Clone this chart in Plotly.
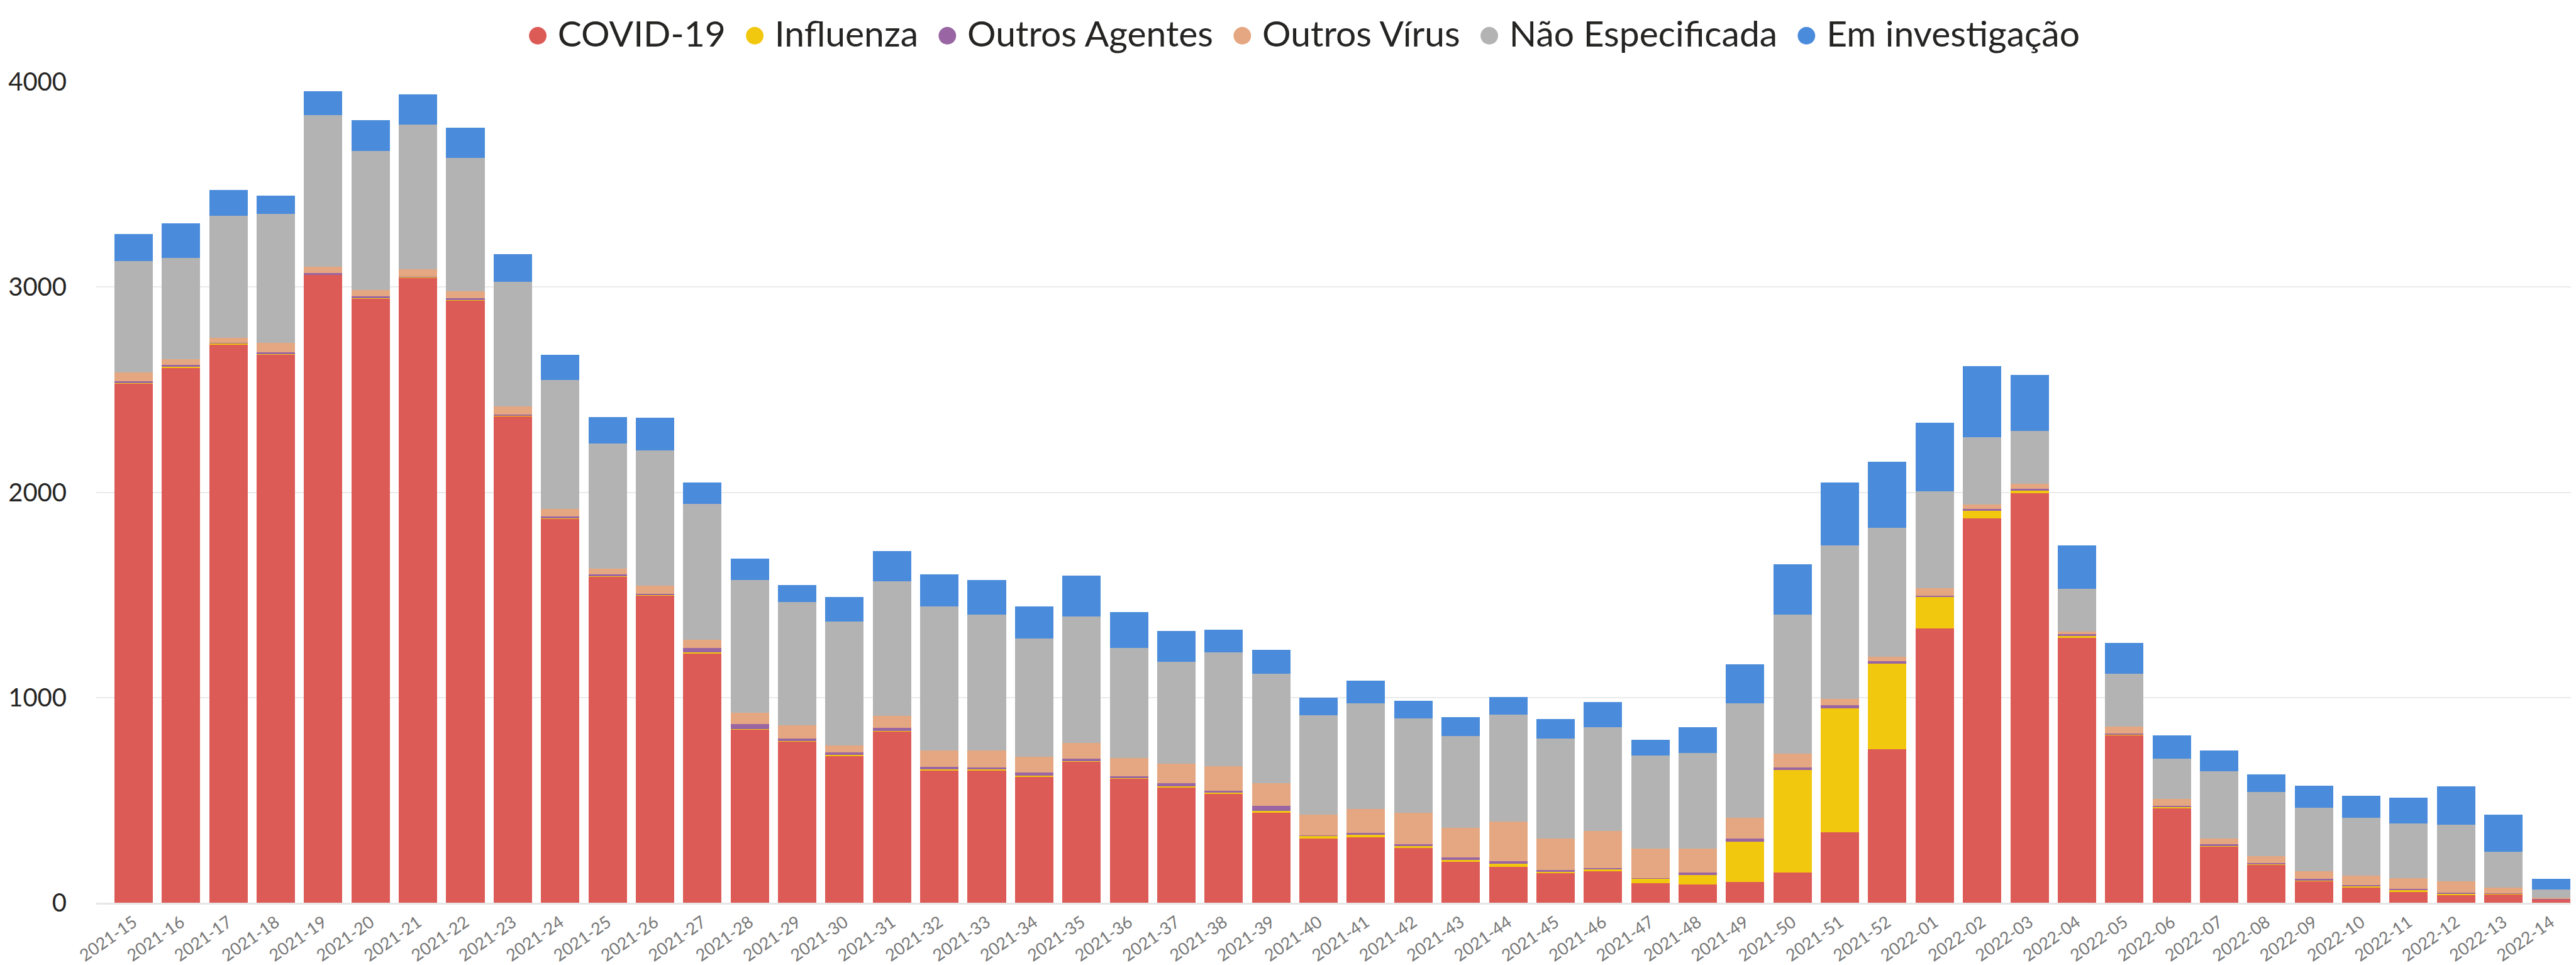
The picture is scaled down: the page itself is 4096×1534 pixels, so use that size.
import plotly.graph_objects as go

weeks = ["2021-15", "2021-16", "2021-17", "2021-18", "2021-19", "2021-20", "2021-21", "2021-22",
         "2021-23", "2021-24", "2021-25", "2021-26", "2021-27", "2021-28", "2021-29", "2021-30",
         "2021-31", "2021-32", "2021-33", "2021-34", "2021-35", "2021-36", "2021-37", "2021-38",
         "2021-39", "2021-40", "2021-41", "2021-42", "2021-43", "2021-44", "2021-45", "2021-46",
         "2021-47", "2021-48", "2021-49", "2021-50", "2021-51", "2021-52", "2022-01", "2022-02",
         "2022-03", "2022-04", "2022-05", "2022-06", "2022-07", "2022-08", "2022-09", "2022-10",
         "2022-11", "2022-12", "2022-13", "2022-14"]

covid = [2530, 2608, 2721, 2671, 3060, 2945, 3044, 2934, 2372, 1870,
         1589, 1497, 1216, 843, 785, 717, 835, 644, 644, 615,
         688, 604, 560, 533, 439, 313, 320, 268, 202, 176, 147,
         152, 95, 89, 102, 147, 344, 749,
         1337, 1873, 1996, 1290,
         817, 462, 273, 184, 105, 76, 55, 37, 42, 16]

influenza = [3, 2, 5, 2, 2, 2, 5, 2, 2, 2,
             2, 4, 5, 3, 3, 3, 3, 5, 5, 5,
             3, 5, 8, 3, 8, 13, 10, 8, 5, 13, 5,
             11, 24, 45, 195, 499, 604, 417,
             155, 39, 13, 10,
             2, 5, 3, 5, 5, 5, 5, 5, 1, 0]

outros_agentes = [7, 11, 3, 9, 6, 8, 1, 9, 6, 9,
                  9, 4, 21, 23, 13, 13, 13, 13, 10, 16,
                  10, 6, 15, 10, 26, 2, 9, 10, 14, 13, 6,
                  5, 1, 13, 16, 13, 13, 11,
                  5, 6, 8, 8,
                  6, 6, 8, 5, 6, 6, 8, 8, 4, 1]

outros_virus = [45, 27, 24, 45, 32, 29, 36, 34, 37, 37,
                29, 40, 40, 58, 63, 34, 60, 81, 84, 76,
                79, 89, 95, 119, 108, 102, 118, 153, 144, 192, 155,
                181, 145, 116, 102, 66, 32, 21,
                37, 21, 24, 13,
                34, 34, 29, 32, 36, 44, 53, 55, 27, 7]

nao_especificada = [541, 494, 594, 630, 738, 678, 707, 649, 609, 630,
                    609, 659, 662, 644, 602, 604, 655, 702, 660, 575,
                    615, 538, 496, 556, 535, 483, 515, 459, 447, 523, 488,
                    507, 451, 467, 557, 678, 749, 630,
                    472, 328, 257, 210,
                    257, 194, 328, 312, 310, 284, 265, 276, 173, 39]

em_investigacao = [131, 168, 126, 87, 115, 152, 145, 147, 134, 121,
                   129, 160, 105, 107, 81, 118, 147, 155, 168, 158,
                   199, 174, 150, 108, 116, 87, 110, 87, 92, 84, 95,
                   121, 79, 124, 189, 247, 307, 321,
                   334, 347, 274, 211,
                   150, 113, 100, 87, 108, 105, 126, 186, 181, 55]

series_names = ["COVID-19", "Influenza", "Outros Agentes", "Outros Vírus",
                "Não Especificada", "Em investigação"]
series_values = [covid, influenza, outros_agentes, outros_virus,
                 nao_especificada, em_investigacao]
colors = ["#DD5B57", "#F2C80F", "#9966A3", "#E5A781", "#B3B3B3", "#4A8CDB"]

y_ticks = [0, 1000, 2000, 3000, 4000]

FONT = "Segoe UI, Lato, Open Sans, sans-serif"

fig = go.Figure()
for name, vals, col in zip(series_names, series_values, colors):
    fig.add_trace(go.Bar(x=weeks, y=vals, name=name, marker=dict(color=col, line=dict(width=0)),
                         showlegend=False))

legend_text = "  ".join(
    f"<span style='color:{c}'>●</span> {n}" for n, c in zip(series_names, colors)
)
fig.add_annotation(text=legend_text, xref="paper", yref="paper", x=0.486, y=1,
                   xanchor="center", yanchor="middle", yshift=78, showarrow=False,
                   font=dict(family=FONT, size=57, color="#252423"))

fig.update_layout(
    width=4096, height=1534,
    barmode="stack", bargap=0.19,
    paper_bgcolor="white", plot_bgcolor="white",
    margin=dict(l=145, r=2, t=122, b=107, autoexpand=False),
    font=dict(family=FONT),
)
fig.update_xaxes(
    type="category", range=[-0.789, 51.61], automargin=False,
    tickangle=-35, tickfont=dict(family=FONT, size=27, color="#777777"),
    ticks="outside", ticklen=2, tickcolor="rgba(0,0,0,0)",
    showgrid=False, showline=True, linecolor="#E6E6E6", linewidth=3,
)
fig.update_yaxes(
    range=[0, 4000], tickvals=y_ticks, automargin=False,
    tickfont=dict(family=FONT, size=40, color="#252423"),
    ticks="outside", ticklen=38, tickcolor="rgba(0,0,0,0)",
    showgrid=True, gridcolor="#EAEAEA", gridwidth=2,
    zeroline=False, showline=False,
)

fig.write_html("out.html")
